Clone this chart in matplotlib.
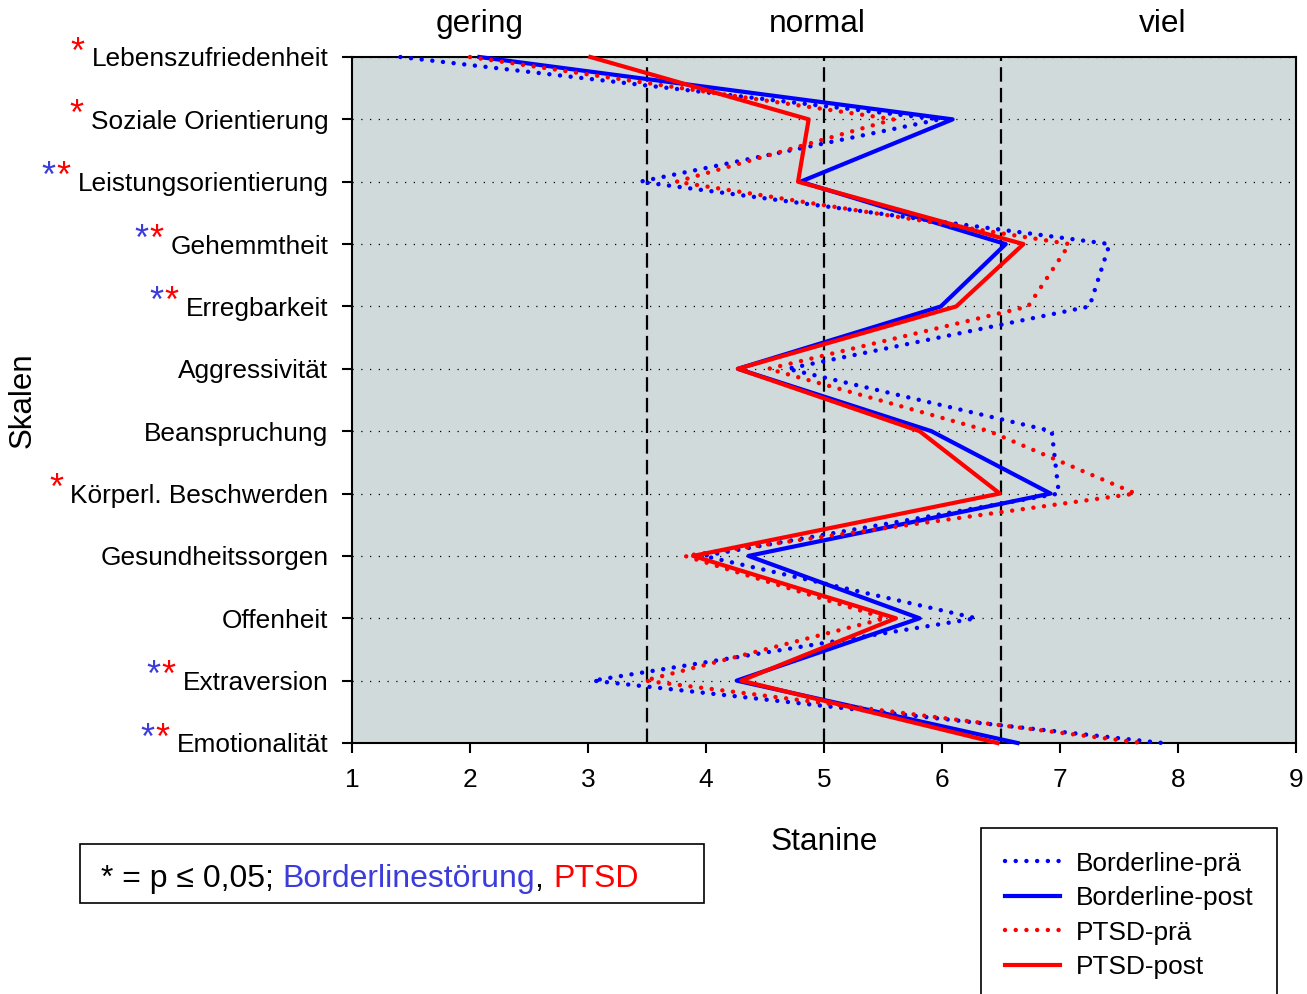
import numpy as np
import matplotlib
matplotlib.use('Agg')
import matplotlib.pyplot as plt
from matplotlib.patches import Rectangle
from matplotlib.transforms import IdentityTransform, blended_transform_factory

plt.rcParams['font.family'] = ['Liberation Sans', 'DejaVu Sans']

# scales, top to bottom
skalen = ['Lebenszufriedenheit', 'Soziale Orientierung', 'Leistungsorientierung',
          'Gehemmtheit', 'Erregbarkeit', 'Aggressivität', 'Beanspruchung',
          'Körperl. Beschwerden', 'Gesundheitssorgen', 'Offenheit',
          'Extraversion', 'Emotionalität']

borderline_pre = [1.41, 5.98, 3.44, 7.42, 7.25, 4.69, 6.93, 6.99, 3.98, 6.29, 3.04, 7.87]
borderline_post = [2.08, 6.09, 4.80, 6.54, 5.99, 4.27, 5.91, 6.92, 4.36, 5.81, 4.26, 6.64]
ptsd_pre = [2.00, 5.59, 3.75, 7.08, 6.73, 4.53, 6.40, 7.64, 3.82, 5.52, 3.48, 7.70]
ptsd_post = [3.02, 4.87, 4.78, 6.69, 6.12, 4.27, 5.81, 6.49, 3.89, 5.61, 4.30, 6.47]

# significance marks per scale: 'b' = Borderline, 'r' = PTSD
signif = ['r', 'r', 'br', 'br', 'br', '', '', 'r', '', '', 'br', 'br']

bereich_labels = ['gering', 'normal', 'viel']
bereich_x = [2.08, 4.94, 7.87]
grenzen = [3.5, 5.0, 6.5]

blue = '#0000ff'
red = '#ff0000'
star_blue = '#3c3cdc'

W, H = 1307, 994
fig = plt.figure(figsize=(W / 100, H / 100), dpi=100)
ax = fig.add_axes([352 / W, 1 - 743 / H, (1296 - 352) / W, (743 - 57) / H])
ax.set_facecolor('#d0dadb')

ypos = np.arange(len(skalen))
ax.set_xlim(1, 9)
ax.set_ylim(len(skalen) - 1, 0)

for g in grenzen:
    ax.axvline(g, color='black', lw=1.6, linestyle=(0, (6.5, 2.8)), zorder=1)
for y in ypos:
    ax.axhline(y, color='black', lw=0.9, linestyle=(0, (1, 6)), zorder=1)

dot = (0, (0.01, 2.4))
ax.plot(borderline_pre, ypos, color=blue, lw=3.2, linestyle=dot,
        dash_capstyle='round', label='Borderline-prä', clip_on=False, zorder=3)
ax.plot(borderline_post, ypos, color=blue, lw=3.0, label='Borderline-post',
        clip_on=False, zorder=3)
ax.plot(ptsd_pre, ypos, color=red, lw=3.2, linestyle=dot,
        dash_capstyle='round', label='PTSD-prä', clip_on=False, zorder=4)
ax.plot(ptsd_post, ypos, color=red, lw=3.0, label='PTSD-post',
        clip_on=False, zorder=4)

ax.set_yticks(ypos)
ax.set_yticklabels(skalen)
ax.set_xticks(range(1, 10))
ax.tick_params(axis='both', direction='out', length=7, width=1.5, labelsize=18.9,
               colors='black')
ax.tick_params(axis='y', pad=10)
ax.tick_params(axis='x', pad=11)
for s in ax.spines.values():
    s.set_linewidth(1.5)
    s.set_color('black')

ax.set_ylabel('Skalen', fontsize=22.5)
ax.yaxis.set_label_coords(-0.333, 0.5)
ax.set_xlabel('Stanine', fontsize=22.8, labelpad=25)

trans = blended_transform_factory(ax.transData, ax.transAxes)
for lbl, xx in zip(bereich_labels, bereich_x):
    ax.text(xx, 1.048, lbl, transform=trans, ha='center', va='center', fontsize=22.8)

leg = ax.legend(loc='upper left', bbox_to_anchor=(981 / W, 1 - 828 / H),
                bbox_transform=fig.transFigure, fontsize=18.9, frameon=True,
                fancybox=False, edgecolor='black', framealpha=1,
                handlelength=2.1, handletextpad=0.6, labelspacing=0.40,
                borderpad=0.9, borderaxespad=0)
leg.get_frame().set_linewidth(1.2)

fig.canvas.draw()
renderer = fig.canvas.get_renderer()

# asterisks in front of the scale names
for lbl, sig in zip(ax.get_yticklabels(), signif):
    if not sig:
        continue
    bb = lbl.get_window_extent(renderer)
    yc = (bb.y0 + bb.y1) / 2 + 13
    x = bb.x0 - 7
    for ch in reversed(sig):
        t = fig.text(x, yc - 16, '*', transform=IdentityTransform(), ha='right',
                     va='baseline', fontsize=26, fontweight='light',
                     color=red if ch == 'r' else star_blue)
        x = t.get_window_extent(renderer).x0 - 1

# note box
fig.patches.append(Rectangle((80 / W, 1 - 903 / H), 624 / W, 59 / H,
                             transform=fig.transFigure, facecolor='white',
                             edgecolor='black', lw=1.2))
pieces = [('* = p ≤ 0,05; ', 'black'), ('Borderlinestörung', star_blue),
          (', ', 'black'), ('PTSD', red)]
x = 101
for txt, col in pieces:
    t = fig.text(x, H - 887, txt, transform=IdentityTransform(), ha='left',
                 va='baseline', fontsize=23, color=col)
    x = t.get_window_extent(renderer).x1

fig.savefig('out.png', dpi=100)
